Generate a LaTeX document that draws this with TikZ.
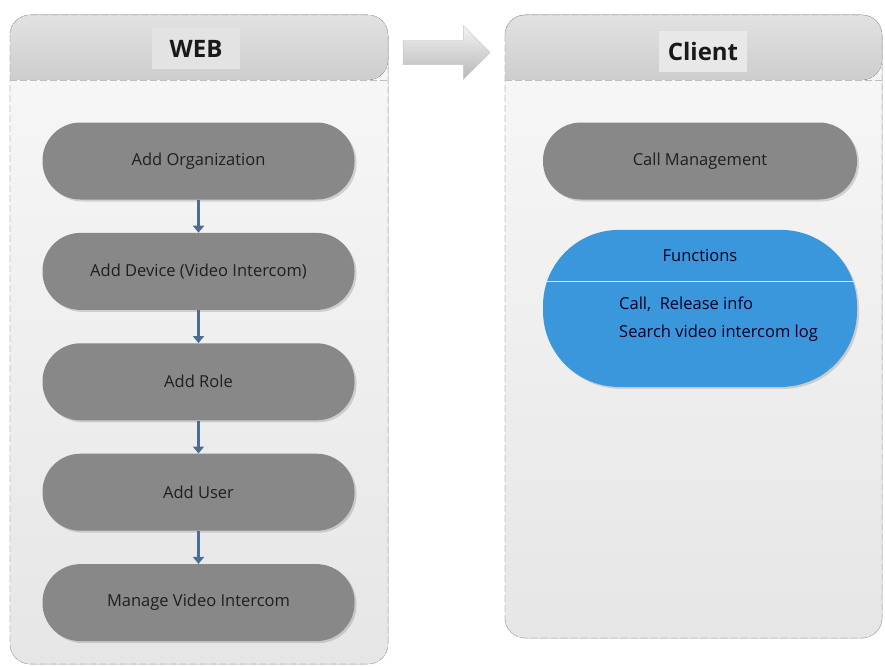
\documentclass[tikz,border=0pt]{standalone}
\usepackage{fontspec}
\setmainfont{Open Sans}
\usetikzlibrary{arrows.meta,positioning,shapes.arrows,shadows}

\definecolor{nodegray}{HTML}{888888}
\definecolor{funblue}{HTML}{3A97DB}
\definecolor{linkblue}{HTML}{4C6C91}
\definecolor{panelline}{HTML}{BEBEBE}
\definecolor{bodytop}{HTML}{F8F8F8}
\definecolor{bodybot}{HTML}{E6E6E6}
\definecolor{headtop}{HTML}{E2E2E2}
\definecolor{headbot}{HTML}{CDCDCD}

\begin{document}
\begin{tikzpicture}[x=1pt,y=-1pt,
    node distance=33pt,
    stepbox/.style={fill=nodegray,rounded corners=38pt,minimum width=312pt,
      minimum height=77pt,font=\fontsize{16.5}{20}\selectfont,text=black!88,
      drop shadow={shadow xshift=2pt,shadow yshift=-2pt,opacity=.3}},
    title/.style={minimum width=88pt,minimum height=41pt,inner sep=0pt,
      font=\bfseries\fontsize{24}{28}\selectfont,text=black!90},
    link/.style={-{Triangle[length=7pt,width=11pt]},line width=2.4pt,draw=linkblue},
    frame/.style={draw=panelline,dash pattern=on 7pt off 3pt,line width=.8pt}]
  \useasboundingbox[fill=white] (0,0) rectangle (885,666);
  % panels
  \fill[top color=bodytop,bottom color=bodybot,rounded corners=20pt] (10,15) rectangle (388,664);
  \fill[top color=headtop,bottom color=headbot] (10,80) [rounded corners=20pt] |- (199,15) -| (388,80) [sharp corners] -- cycle;
  \draw[frame,rounded corners=20pt] (10,15) rectangle (388,664);
  \draw[frame] (10,80) -- (388,80);
  \fill[top color=bodytop,bottom color=bodybot,rounded corners=20pt] (505,15) rectangle (882,638);
  \fill[top color=headtop,bottom color=headbot] (505,80) [rounded corners=20pt] |- (693,15) -| (882,80) [sharp corners] -- cycle;
  \draw[frame,rounded corners=20pt] (505,15) rectangle (882,638);
  \draw[frame] (505,80) -- (882,80);
  \node[title,fill=black!11] (web) at (196,48.5) {WEB};
  \node[title,fill=black!9] (client) at (703,52) {Client};
  \node[single arrow,single arrow head extend=14.5pt,minimum height=87pt,inner sep=12pt,
    draw=black!22,top color=black!5,bottom color=black!28] (go) at (440.5,52.5) {};
  % web steps
  \node[stepbox] (org) at (198.5,161) {Add Organization};
  \node[stepbox,below=of org] (device) {Add Device (Video Intercom)};
  \node[stepbox,below=of device] (role) {Add Role};
  \node[stepbox,below=of role] (user) {Add User};
  \node[stepbox,below=of user] (manage) {Manage Video Intercom};
  \draw[link] (org)--(device);
  \draw[link] (device)--(role);
  \draw[link] (role)--(user);
  \draw[link] (user)--(manage);
  % client
  \node[stepbox,minimum width=314pt] (call) at (700,161) {Call Management};
  \node[stepbox,fill=funblue,minimum width=314pt,minimum height=157pt,rounded corners=76pt,
    below=30pt of call] (functions) {};
  \draw[white!75!funblue,line width=1.2pt] ([xshift=3pt,yshift=-52pt]functions.north west)
    -- ([xshift=-3pt,yshift=-52pt]functions.north east);
  \node[font=\fontsize{16.5}{20}\selectfont,text=black!85!blue] (funtitle)
    at ([yshift=-26pt]functions.north) {Functions};
  \node[font=\fontsize{16.5}{28}\selectfont,text=black!85!blue,align=left,anchor=west,inner sep=0pt] (funlist)
    at (619,319) {Call,~ Release info\\Search video intercom log};
\end{tikzpicture}
\end{document}
